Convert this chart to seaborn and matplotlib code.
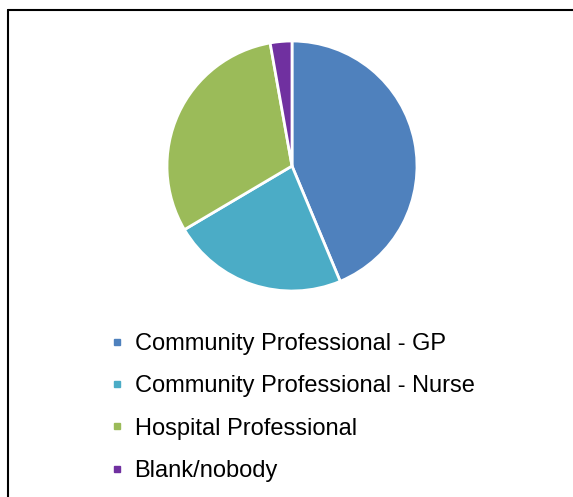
import matplotlib.pyplot as plt
import seaborn as sns
from matplotlib.lines import Line2D

categories = ['Community Professional - GP', 'Community Professional - Nurse',
              'Hospital Professional', 'Blank/nobody']
shares = [43.7, 22.8, 30.7, 2.8]
colors = ['#4F81BD', '#4BACC6', '#9BBB59', '#7030A0']

sns.set_style('white')
plt.rcParams['font.family'] = ['Liberation Sans', 'DejaVu Sans']
plt.rcParams['text.color'] = 'black'

fig = plt.figure(figsize=(5.73, 4.97), dpi=100)

# pie area, square box in pixels
ax = fig.add_axes([167 / 573, (497 - 291) / 497, 250 / 573, 250 / 497])
ax.pie(shares, colors=colors, startangle=90, counterclock=False,
       wedgeprops=dict(edgecolor='white', linewidth=2))
ax.set_xlim(-1, 1)
ax.set_ylim(-1, 1)
ax.set_aspect('equal')
ax.axis('off')

handles = [Line2D([0], [0], marker='s', linestyle='', markersize=5,
                  markerfacecolor=c, markeredgecolor=c) for c in colors]
leg = fig.legend(handles, categories, loc='upper left', bbox_to_anchor=(111 / 573, 1 - 333 / 497),
                 frameon=False, fontsize=17, handlelength=0.5, handletextpad=0.5,
                 labelspacing=0.86, borderaxespad=0, borderpad=0)
for t in leg.get_texts():
    t.set_color('black')

# chart frame: only top and left edges visible in the crop
fig.add_artist(Line2D([8 / 573, 8 / 573], [0, 1 - 10 / 497], color='black', linewidth=1.5,
                      transform=fig.transFigure))
fig.add_artist(Line2D([8 / 573, 1], [1 - 10 / 497, 1 - 10 / 497], color='black', linewidth=1.5,
                      transform=fig.transFigure))

fig.savefig('out.png', dpi=100)
